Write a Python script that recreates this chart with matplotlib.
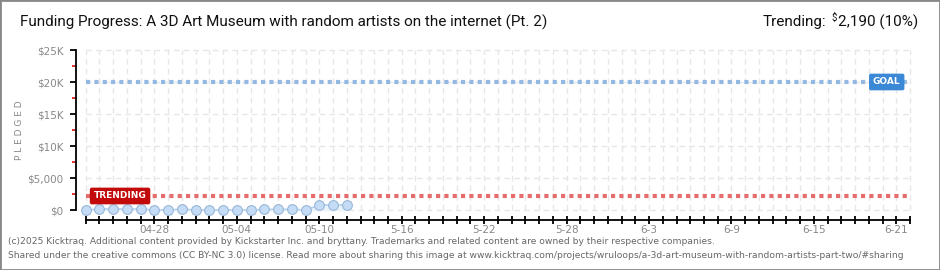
import pandas as pd
import matplotlib.pyplot as plt
import matplotlib.dates as mdates
from matplotlib.patches import Rectangle
import numpy as np

# data
pledge_dates = pd.date_range("2025-04-23", "2025-05-12")
pledged = [0, 150, 150, 150, 150, 0, 0, 150, 0, 0, 0, 0, 0, 100, 100, 100, 0, 780, 780, 780]

axis_start = pd.Timestamp("2025-04-23")
axis_end = pd.Timestamp("2025-06-22")
goal = 20000
trending = 2190

xtick_dates = ["2025-04-28", "2025-05-04", "2025-05-10", "2025-05-16", "2025-05-22",
               "2025-05-28", "2025-06-03", "2025-06-09", "2025-06-15", "2025-06-21"]
xtick_labels = ["04-28", "05-04", "05-10", "5-16", "5-22", "5-28", "6-3", "6-9", "6-15", "6-21"]
ytick_vals = [0, 5000, 10000, 15000, 20000, 25000]
ytick_labels = ["$0", "$5,000", "$10K", "$15K", "$20K", "$25K"]

W, H = 940, 270
fig = plt.figure(figsize=(W / 100, H / 100), dpi=100)
fig.patch.set_facecolor("white")

# axes placed in pixel terms
left_px, right_px, top_px, bot_px = 76, 925, 45, 230
ax = fig.add_axes([left_px / W, 1 - bot_px / H, (right_px - left_px) / W, (bot_px - top_px) / H])

px_per_day = 13.74
x0 = mdates.date2num(axis_start)
x1 = mdates.date2num(axis_end)
ax.set_xlim(x0 - (85.7 - left_px) / px_per_day, x0 + (right_px - 85.7) / px_per_day)
px_per_dollar = 160 / 25000
ax.set_ylim(-(bot_px - 210) / px_per_dollar, 25000 + (50 - top_px) / px_per_dollar)

# grid
all_days = pd.date_range(axis_start, axis_end)
ax.vlines(all_days, 0, 25000, colors="#e6e6e6", linestyles=(0, (4, 3)), linewidth=1, zorder=0)
ax.hlines(ytick_vals, x0, x1, colors="#e6e6e6", linestyles=(0, (4, 3)),
          linewidth=1, zorder=0)

# goal and trending lines
ax.hlines(goal, x0, x1, colors="#93b8e2", linestyles=(0, (1, 1)), linewidth=3, zorder=2)
ax.hlines(trending, x0, x1, colors="#e46e6e", linestyles=(0, (1, 1)), linewidth=3, zorder=2)

# pledged series
ax.fill_between(pledge_dates, pledged, 0, color="#eaf2fb", zorder=3)
ax.plot(pledge_dates, pledged, color="#b5d2f0", linewidth=1.2, zorder=4)
ax.plot(pledge_dates, pledged, "o", markersize=7, markerfacecolor="#c4dcf6",
        markeredgecolor="#98b6d6", markeredgewidth=0.8, zorder=5)

# labels for goal / trending
ax.text(x0 + 58.3, goal, "GOAL", color="white", fontsize=6.5, fontweight="bold",
        ha="center", va="center", zorder=6,
        bbox=dict(boxstyle="round,pad=0.35,rounding_size=0.15", fc="#3b88d6", ec="#3b88d6"))
ax.text(x0 + 2.5, trending, "TRENDING", color="white", fontsize=6.5, fontweight="bold",
        ha="center", va="center", zorder=6,
        bbox=dict(boxstyle="round,pad=0.35,rounding_size=0.15", fc="#c20a0a", ec="#c20a0a"))

# spines
for s in ["top", "right"]:
    ax.spines[s].set_visible(False)
ax.spines["left"].set_bounds(0, 25000)
ax.spines["left"].set_linewidth(1.3)
ax.spines["bottom"].set_position(("data", -(220 - 210) / px_per_dollar))
ax.spines["bottom"].set_bounds(x0, x1)
ax.spines["bottom"].set_linewidth(1.3)

ax.set_yticks(ytick_vals)
ax.set_yticklabels(ytick_labels)
ax.set_yticks([2500, 7500, 12500, 17500, 22500], minor=True)
ax.tick_params(axis="y", which="major", length=4, width=1.3, direction="out", pad=5,
               labelsize=7.5, labelcolor="#888888")
ax.tick_params(axis="y", which="minor", length=3, width=1.3, color="#e02020", direction="out")

ax.set_xticks(all_days, minor=True)
ax.set_xticks(pd.to_datetime(xtick_dates))
ax.set_xticklabels(xtick_labels)
ax.tick_params(axis="x", which="both", length=6, width=1.3, direction="inout")
ax.tick_params(axis="x", which="major", labelsize=7.5, labelcolor="#888888", pad=0.5)

fig.text(20 / W, 1 - 130 / H, "P L E D G E D", fontsize=6.5, color="#888888",
         rotation=90, ha="center", va="center")

# header / footer
fig.text(20 / W, 1 - 22 / H, "Funding Progress: A 3D Art Museum with random artists on the internet (Pt. 2)",
         fontsize=11, family="Roboto", color="#111111", va="center", ha="left")
amount = fig.text(918 / W, 1 - 22 / H, "2,190 (10%)", fontsize=11, family="Roboto",
                  color="#111111", va="center", ha="right")
renderer = fig.canvas.get_renderer()
bb = amount.get_window_extent(renderer)
dollar = fig.text((bb.x0 - 1) / W, 1 - 18 / H, "$", fontsize=7, family="Roboto",
                  color="#111111", va="center", ha="right")
bb2 = dollar.get_window_extent(renderer)
fig.text((bb2.x0 - 5) / W, 1 - 22 / H, "Trending:", fontsize=11, family="Roboto",
         color="#111111", va="center", ha="right")

fig.text(8 / W, 1 - 242 / H,
         "(c)2025 Kicktraq. Additional content provided by Kickstarter Inc. and bryttany. "
         "Trademarks and related content are owned by their respective companies.",
         fontsize=6.6, color="#666666", va="center")
fig.text(8 / W, 1 - 256 / H,
         "Shared under the creative commons (CC BY-NC 3.0) license. Read more about sharing this image at "
         "www.kicktraq.com/projects/wruloops/a-3d-art-museum-with-random-artists-part-two/#sharing",
         fontsize=6.6, color="#666666", va="center")

fig.patches.append(Rectangle((0, 0), 1, 1, transform=fig.transFigure, fill=False,
                             edgecolor="#888888", linewidth=2))

fig.savefig("out.png", dpi=100)
